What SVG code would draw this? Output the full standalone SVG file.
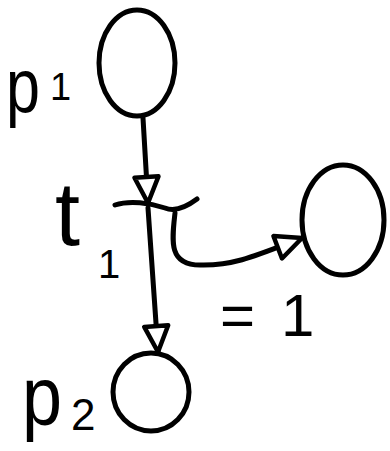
<svg xmlns="http://www.w3.org/2000/svg" width="390" height="451" viewBox="0 0 390 451">
<style>
.node{fill:none;stroke:#000;stroke-width:5;stroke-linecap:round;stroke-linejoin:round}
.edge{fill:none;stroke:#000;stroke-width:5;stroke-linecap:round;stroke-linejoin:round}
.lbl{font-family:"Liberation Sans",Arial,sans-serif;fill:#000}
</style>
<defs>
<marker id="arrL" viewBox="-3 -3 36 30" refX="28" refY="12" markerWidth="36" markerHeight="30" markerUnits="userSpaceOnUse" orient="auto">
<path d="M2,0 L28,12 L2,24 Z" fill="#fff" stroke="#000" stroke-width="4.5" stroke-linejoin="round"/>
</marker>
</defs>
<g id="p1">
<ellipse class="node" cx="137" cy="63" rx="38" ry="53"/>
<text class="lbl" x="6" y="112" font-size="76" textLength="34" lengthAdjust="spacingAndGlyphs">p</text>
<text class="lbl" x="50" y="100" font-size="38">1</text>
</g>
<g id="p3">
<ellipse class="node" cx="343" cy="220" rx="41" ry="55"/>
</g>
<g id="p2">
<ellipse class="node" cx="151" cy="392" rx="38" ry="39"/>
<text class="lbl" x="22" y="425" font-size="84" textLength="40" lengthAdjust="spacingAndGlyphs">p</text>
<text class="lbl" x="71" y="430" font-size="44">2</text>
</g>
<g id="t1">
<path class="node" d="M115,205 C130,200 150,203 165,208 C175,212 185,208 197,199"/>
<text class="lbl" x="55" y="245" font-size="90">t</text>
<text class="lbl" x="98" y="278" font-size="40">1</text>
</g>
<g id="connectors">
<path class="edge" d="M143,118 L148,203" marker-end="url(#arrL)"/>
<path class="edge" d="M148,208 L158,352" marker-end="url(#arrL)"/>
<path class="edge" d="M175,213 C172,240 168,265 200,265 C235,266 260,254 302,238" marker-end="url(#arrL)"/>
<text class="lbl" x="220" y="336" font-size="60">=<tspan dx="26">1</tspan></text>
</g>
</svg>
